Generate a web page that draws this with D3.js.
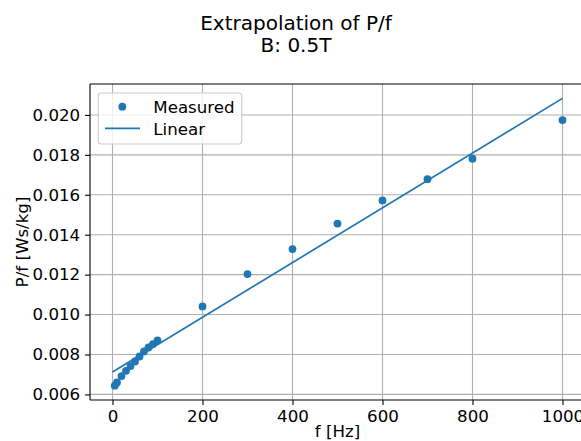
<!DOCTYPE html>
<html>
<head>
<meta charset="utf-8">
<script src="https://cdn.jsdelivr.net/npm/d3@7"></script>
<style>
  html, body { margin: 0; padding: 0; background: #fff; }
  svg { display: block; font-family: "DejaVu Sans", sans-serif; }
</style>
</head>
<body>
<svg id="chart" width="581" height="441"></svg>
<script>
// Measured loss per cycle at B = 0.5 T
const freqs = [5, 10, 20, 30, 40, 50, 60, 70, 80, 90, 100, 200, 300, 400, 500, 600, 700, 800, 1000];
const pOverF = [0.00644, 0.00660, 0.00692, 0.00718, 0.00742, 0.00765, 0.00790, 0.00815, 0.00835, 0.00852, 0.00870,
                0.01041, 0.01203, 0.01328, 0.01456, 0.01572, 0.01678, 0.01781, 0.01974];

// Linear fit, evaluated at its end points
const fitF = [0, 1000];
const fitVal = [0.00712, 0.02083];

const xTicks = [0, 200, 400, 600, 800, 1000];
const yTicks = [0.006, 0.008, 0.010, 0.012, 0.014, 0.016, 0.018, 0.020];

const titleLines = ["Extrapolation of P/f", "B: 0.5T"];
const xLabel = "f [Hz]";
const yLabel = "P/f [Ws/kg]";
const legendLabels = ["Measured", "Linear"];

const blue = "#1f77b4";
const fontSize = 16.67;

const svg = d3.select("#chart");
const plot = { left: 90, right: 585, top: 84, bottom: 400 };

// 5% margins around the data range on both axes
const xMin = d3.min(fitF), xMax = d3.max(fitF);
const xPad = (xMax - xMin) * 0.05;
const x = d3.scaleLinear().domain([xMin - xPad, xMax + xPad]).range([plot.left, plot.right]);

const allY = pOverF.concat(fitVal);
const yMin = d3.min(allY), yMax = d3.max(allY);
const yPad = (yMax - yMin) * 0.05;
const y = d3.scaleLinear().domain([yMin - yPad, yMax + yPad]).range([plot.bottom, plot.top]);

// Grid
const grid = svg.append("g");
grid.selectAll("line.vx").data(xTicks).enter().append("line")
  .attr("x1", d => x(d)).attr("x2", d => x(d))
  .attr("y1", plot.top).attr("y2", plot.bottom)
  .attr("stroke", "#b0b0b0").attr("stroke-width", 1.1);
grid.selectAll("line.hy").data(yTicks).enter().append("line")
  .attr("x1", plot.left).attr("x2", plot.right)
  .attr("y1", d => y(d)).attr("y2", d => y(d))
  .attr("stroke", "#b0b0b0").attr("stroke-width", 1.1);

// Axes
const xAxis = d3.axisBottom(x).tickValues(xTicks).tickFormat(d3.format("d"))
  .tickSizeInner(4.9).tickSizeOuter(0).tickPadding(4.9);
const yAxis = d3.axisLeft(y).tickValues(yTicks).tickFormat(d3.format(".3f"))
  .tickSizeInner(4.9).tickSizeOuter(0).tickPadding(4.9);

const gx = svg.append("g").attr("transform", `translate(0,${plot.bottom})`).call(xAxis);
const gy = svg.append("g").attr("transform", `translate(${plot.left},0)`).call(yAxis);
[gx, gy].forEach(g => {
  g.select(".domain").remove();
  g.selectAll(".tick line").attr("stroke", "#000").attr("stroke-width", 1.1);
  g.selectAll(".tick text").attr("fill", "#000")
    .style("font-size", fontSize + "px").style("font-family", "DejaVu Sans, sans-serif");
});

// Fit line
const line = d3.line().x(d => x(d[0])).y(d => y(d[1]));
svg.append("path")
  .datum(d3.zip(fitF, fitVal))
  .attr("d", line)
  .attr("fill", "none")
  .attr("stroke", blue)
  .attr("stroke-width", 1.7);

// Measured points
svg.append("g").selectAll("circle").data(d3.zip(freqs, pOverF)).enter().append("circle")
  .attr("cx", d => x(d[0])).attr("cy", d => y(d[1]))
  .attr("r", 3.9).attr("fill", blue);

// Spines
const sp = svg.append("g").attr("stroke", "#000").attr("stroke-width", 1.1);
sp.append("line").attr("x1", plot.left).attr("x2", plot.right).attr("y1", plot.top).attr("y2", plot.top);
sp.append("line").attr("x1", plot.left).attr("x2", plot.right).attr("y1", plot.bottom).attr("y2", plot.bottom);
sp.append("line").attr("x1", plot.left).attr("x2", plot.left).attr("y1", plot.top).attr("y2", plot.bottom);
sp.append("line").attr("x1", plot.right).attr("x2", plot.right).attr("y1", plot.top).attr("y2", plot.bottom);

// Axis labels
svg.append("text").attr("x", (plot.left + plot.right) / 2).attr("y", 437)
  .attr("text-anchor", "middle").style("font-size", fontSize + "px").text(xLabel);
svg.append("text")
  .attr("transform", `translate(28,${(plot.top + plot.bottom) / 2}) rotate(-90)`)
  .attr("text-anchor", "middle").style("font-size", fontSize + "px").text(yLabel);

// Title
svg.append("g").selectAll("text").data(titleLines).enter().append("text")
  .attr("x", 296).attr("y", (d, i) => 29.5 + i * 22.5)
  .attr("text-anchor", "middle").style("font-size", "20px").text(d => d);

// Legend
const lg = svg.append("g");
lg.append("rect").attr("x", 98.3).attr("y", 93).attr("width", 143.4).attr("height", 51)
  .attr("rx", 3).attr("fill", "#fff").attr("fill-opacity", 0.8)
  .attr("stroke", "#cccccc").attr("stroke-width", 1.1);
lg.append("circle").attr("cx", 122.3).attr("cy", 106.7).attr("r", 3.9).attr("fill", blue);
lg.append("line").attr("x1", 105).attr("x2", 140).attr("y1", 128.3).attr("y2", 128.3)
  .attr("stroke", blue).attr("stroke-width", 1.7);
lg.selectAll("text").data(legendLabels).enter().append("text")
  .attr("x", 153.3).attr("y", (d, i) => 112.6 + i * 22)
  .style("font-size", fontSize + "px").text(d => d);
</script>
</body>
</html>
